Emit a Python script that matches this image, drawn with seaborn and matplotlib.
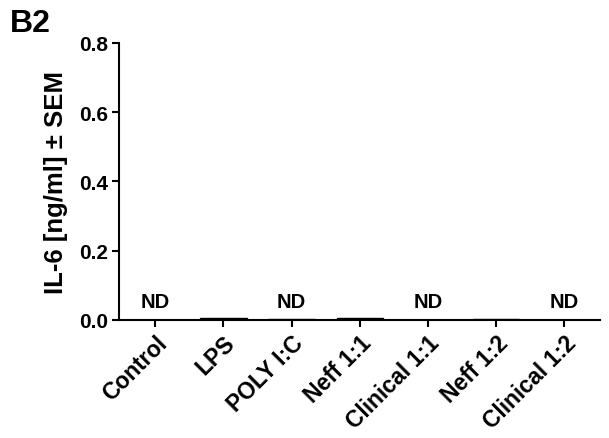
import matplotlib
matplotlib.use("Agg")
import matplotlib.pyplot as plt
import seaborn as sns
import pandas as pd

categories = ["Control", "LPS", "POLY I:C", "Neff 1:1", "Clinical 1:1", "Neff 1:2", "Clinical 1:2"]
values = [0.001, 0.006, 0.002, 0.006, 0.0005, 0.002, 0.0005]
nd_labels = ["ND", "", "ND", "", "ND", "", "ND"]
yticks = [0.0, 0.2, 0.4, 0.6, 0.8]

sns.set_theme(style="ticks")
plt.rcParams['font.family'] = ['Liberation Sans', 'DejaVu Sans']
plt.rcParams['font.weight'] = 'bold'
for k in ["text.color", "axes.labelcolor", "xtick.color", "ytick.color", "axes.edgecolor"]:
    plt.rcParams[k] = "black"

df = pd.DataFrame({"cat": categories, "val": values})

fig = plt.figure(figsize=(6.09, 4.39), dpi=100)
ax = fig.add_axes([0.1954, 0.2688, 0.7896, 0.631])
sns.barplot(data=df, x="cat", y="val", ax=ax, color="#333333", edgecolor="black",
            linewidth=1, width=0.68, saturation=1)

for i, t in enumerate(nd_labels):
    if t:
        ax.text(i, 0.052, t, ha="center", va="center", fontsize=14.5, fontweight="bold")

ax.set_ylim(0, 0.8)
ax.set_xlim(-0.53, 6.52)
ax.set_yticks(yticks)
ax.set_yticklabels([f"{v:.1f}" for v in yticks], fontsize=15, fontweight="bold")
ax.set_xticks(range(len(categories)))
ax.set_xticklabels(categories, rotation=45, ha="right", rotation_mode="anchor",
                   fontsize=16.5, fontweight="bold")
ax.set_xlabel("")
ax.set_ylabel("IL-6 [ng/ml] ± SEM", fontsize=18.5, fontweight="bold", labelpad=8)
for s in ["top", "right"]:
    ax.spines[s].set_visible(False)
for s in ["left", "bottom"]:
    ax.spines[s].set_linewidth(1.5)
    ax.spines[s].set_color("black")
ax.tick_params(axis="both", direction="out", length=5, width=1.5, color="black", pad=3)

fig.text(0.016, 0.927, "B2", fontsize=23, fontweight="bold", ha="left", va="baseline")

fig.savefig("out.png", dpi=100)
